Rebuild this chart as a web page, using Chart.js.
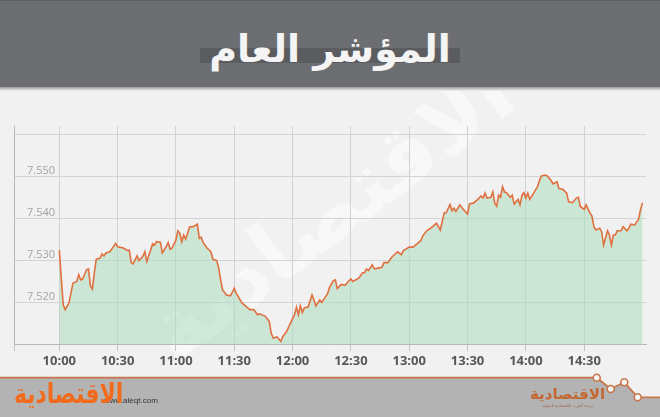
<!DOCTYPE html>
<html lang="ar">
<head>
<meta charset="UTF-8">
<title>المؤشر العام</title>
<script src="https://cdn.jsdelivr.net/npm/chart.js"></script>
<style>
    html, body { margin: 0; padding: 0; }
    body {
        width: 660px; height: 417px; position: relative; overflow: hidden;
        background: #f1f1f1; font-family: 'DejaVu Sans', sans-serif;
    }
    .header {
        position: absolute; left: 0; top: 0; width: 660px; height: 87px;
        background: #6d6e72; border-top: 1px solid #5f6064; box-sizing: border-box;
    }
    .header .bar { position: absolute; left: 200px; top: 47px; width: 260px; height: 15px; background: #5b5c60; }
    .header h1 {
        position: absolute; left: 0; top: 28px; width: 660px; margin: 0;
        text-align: center; color: #f4f4f4; font-size: 38px; line-height: 40px; font-weight: bold;
    }
    .shade { position: absolute; left: 0; top: 87px; width: 660px; height: 4px; background: linear-gradient(#9d9d9d, #f1f1f1); }
    .wm-box { position: absolute; left: 0; top: 91px; width: 660px; height: 286px; overflow: hidden; }
    .watermark {
        position: absolute; left: 90px; top: 70px; width: 480px; text-align: center;
        font-size: 86px; line-height: 100px; font-weight: bold; color: rgba(255,255,255,0.5);
        transform: rotate(-37deg); direction: rtl;
    }
    #wrap { position: absolute; left: 0; top: 90px; width: 660px; height: 287px; }
    .footer { position: absolute; left: 0; top: 365px; width: 660px; height: 52px; }
    .logo {
        position: absolute; left: 14px; top: 379px; color: #f26a1b; font-size: 28px; font-weight: bold;
        line-height: 30px; direction: rtl; transform: scaleX(0.78); transform-origin: left center;
    }
    .site { position: absolute; left: 104px; top: 396px; color: #333; font-size: 8px; font-family: 'Liberation Sans', sans-serif; }
    .logo2 { position: absolute; left: 530px; top: 386px; color: #c4672f; font-size: 15px; font-weight: bold; line-height: 16px; direction: rtl; }
    .sub2 { position: absolute; left: 528px; top: 403px; width: 66px; color: #a0653f; font-size: 4px; line-height: 5px; direction: rtl; text-align: right; }
</style>
</head>
<body>
<div class="header">
    <div class="bar"></div>
    <h1>المؤشر العام</h1>
</div>
<div class="shade"></div>
<div class="wm-box"><div class="watermark">الاقتصادية</div></div>
<div id="wrap"><canvas id="indexChart" width="660" height="287"></canvas></div>

<svg class="footer" width="660" height="52" viewBox="0 0 660 52">
    <polygon points="0,12.7 596.7,12.7 610.7,24 624.3,17.3 637.7,32.3 660,32.3 660,52 0,52" fill="#b3b3b3"/>
    <polyline points="0,12.7 596.7,12.7 610.7,24 624.3,17.3 637.7,32.3 660,32.3" fill="none" stroke="#c8744a" stroke-width="1.8"/>
    <circle cx="596.7" cy="12.7" r="3.5" fill="#f4f4f4" stroke="#c8744a" stroke-width="1.6"/>
    <circle cx="610.7" cy="24" r="3.5" fill="#f4f4f4" stroke="#c8744a" stroke-width="1.6"/>
    <circle cx="624.3" cy="17.3" r="3.5" fill="#f4f4f4" stroke="#c8744a" stroke-width="1.6"/>
    <circle cx="637.7" cy="32.3" r="3.5" fill="#f4f4f4" stroke="#c8744a" stroke-width="1.6"/>
</svg>
<div class="site">www.aleqt.com</div>
<div class="logo">الاقتصادية</div>
<div class="logo2">الاقتصادية</div>
<div class="sub2">جريدة العرب الاقتصادية الدولية</div>

<script>
    // minutes after 10:00 and index level
    const minutes = [0, 2, 3, 5, 7, 9, 10, 11, 12, 14, 15, 16, 17, 18, 19, 21, 22, 23, 24, 26,
        29, 30, 33, 35, 36, 37, 38, 40, 41, 43, 44, 45, 47, 48, 49, 50, 52, 53, 55, 56,
        57, 58, 60, 61, 62, 63, 64, 65, 66, 67, 69, 71, 72, 73, 74, 76, 78, 79, 81, 82,
        83, 84, 86, 88, 89, 90, 91, 93, 94, 96, 98, 100, 102, 103, 106, 108, 109, 110, 112, 114,
        115, 117, 119, 121, 122, 123, 124, 125, 126, 128, 130, 131, 132, 134, 135, 137, 138, 139, 141, 142,
        143, 145, 147, 149, 150, 151, 154, 156, 157, 158, 159, 161, 162, 164, 166, 167, 169, 171, 174, 176,
        177, 180, 182, 184, 186, 187, 189, 191, 192, 194, 196, 198, 199, 201, 202, 203, 204, 206, 208, 210,
        211, 213, 215, 217, 218, 219, 220, 222, 223, 224, 225, 226, 227, 228, 229, 230, 232, 233, 234, 236,
        237, 238, 239, 240, 241, 242, 244, 246, 247, 248, 250, 251, 253, 254, 256, 257, 259, 261, 262, 264,
        266, 267, 268, 270, 271, 273, 274, 275, 276, 278, 279, 280, 282, 283, 284, 285, 286, 287, 289, 290,
        292, 293, 294, 296, 298, 299, 300];
    const levels = [7532.4, 7519.4, 7518.2, 7519.8, 7524.5, 7524.9, 7526.5, 7525.3, 7525.5, 7527.7, 7527.9, 7523.9, 7523.1, 7526.9, 7530.2, 7530.5, 7531.5, 7531.0, 7531.7, 7532.0,
        7534.0, 7533.2, 7532.9, 7532.3, 7532.4, 7529.4, 7529.1, 7531.0, 7529.9, 7530.9, 7532.0, 7529.7, 7532.4, 7533.9, 7533.6, 7534.4, 7534.3, 7531.7, 7533.2, 7534.2,
        7532.6, 7532.9, 7534.8, 7537.0, 7536.4, 7534.4, 7536.0, 7535.0, 7536.4, 7537.9, 7538.0, 7538.6, 7535.2, 7535.5, 7534.2, 7532.9, 7532.0, 7530.2, 7529.9, 7528.1,
        7525.3, 7522.9, 7521.7, 7521.5, 7522.3, 7523.3, 7522.1, 7520.5, 7519.8, 7519.0, 7518.2, 7518.2, 7517.0, 7517.2, 7516.6, 7515.4, 7512.6, 7511.4, 7511.7, 7510.6,
        7511.8, 7513.0, 7515.1, 7517.0, 7518.8, 7517.0, 7519.1, 7517.5, 7518.6, 7518.8, 7521.7, 7520.5, 7519.1, 7520.5, 7519.9, 7521.3, 7522.0, 7523.5, 7525.1, 7525.3,
        7523.2, 7524.2, 7524.0, 7525.1, 7525.5, 7524.9, 7525.7, 7527.0, 7527.0, 7527.9, 7527.5, 7528.9, 7527.9, 7528.1, 7528.3, 7529.4, 7529.4, 7530.7, 7532.0, 7531.3,
        7532.3, 7533.1, 7533.1, 7533.9, 7534.7, 7535.8, 7537.0, 7537.6, 7538.0, 7538.8, 7537.2, 7541.3, 7541.3, 7543.3, 7541.8, 7542.4, 7541.6, 7543.2, 7542.0, 7541.0,
        7543.4, 7543.6, 7544.4, 7545.3, 7544.8, 7546.0, 7544.8, 7545.0, 7546.3, 7543.6, 7542.9, 7545.5, 7545.0, 7547.5, 7546.3, 7546.1, 7545.0, 7545.5, 7543.4, 7544.5,
        7543.2, 7545.5, 7546.1, 7544.8, 7546.0, 7544.5, 7546.0, 7547.5, 7549.0, 7550.1, 7550.3, 7550.1, 7549.0, 7548.2, 7548.7, 7547.1, 7546.9, 7546.0, 7543.9, 7543.7,
        7544.8, 7545.0, 7542.8, 7542.1, 7543.2, 7541.2, 7540.5, 7538.0, 7537.2, 7537.6, 7536.8, 7533.6, 7537.0, 7536.0, 7533.6, 7536.0, 7536.0, 7537.0, 7537.0, 7538.0,
        7537.0, 7537.6, 7538.6, 7538.4, 7539.8, 7542.1, 7543.7];

    const xTicks = [0, 30, 60, 90, 120, 150, 180, 210, 240, 270];
    const xLabels = ['10:00', '10:30', '11:00', '11:30', '12:00', '12:30', '13:00', '13:30', '14:00', '14:30'];
    const yTicks = [7510, 7520, 7530, 7540, 7550, 7560];
    const yLabels = ['', '7.520', '7.530', '7.540', '7.550', ''];

    const xMin = -23.3, xMax = 301.8;
    const allXTicks = [xMin].concat(xTicks);
    const allXLabels = [''].concat(xLabels);

    const ctx = document.getElementById('indexChart').getContext('2d');
    new Chart(ctx, {
        type: 'line',
        data: {
            datasets: [{
                data: minutes.map((m, i) => ({ x: m, y: levels[i] })),
                borderColor: '#e0703f',
                borderWidth: 1.6,
                backgroundColor: 'rgba(165, 219, 183, 0.5)',
                fill: 'start',
                pointRadius: 0,
                tension: 0
            }]
        },
        options: {
            responsive: false,
            devicePixelRatio: 1,
            animation: false,
            layout: { padding: { left: 14, right: 14, top: 36, bottom: 0 } },
            plugins: { legend: { display: false }, tooltip: { enabled: false } },
            scales: {
                x: {
                    type: 'linear',
                    min: xMin,
                    max: xMax,
                    afterBuildTicks: s => { s.ticks = allXTicks.map(v => ({ value: v })); },
                    afterFit: s => { s.height = 33; },
                    grid: { color: '#d2d2d2', tickLength: 7, tickColor: '#c4c4c4' },
                    border: { color: '#b8b8b8' },
                    ticks: {
                        autoSkip: false, maxRotation: 0, padding: 2,
                        color: '#575757',
                        font: { family: 'Open Sans', size: 13, weight: 'bold' },
                        callback: (v, i) => allXLabels[i]
                    }
                },
                y: {
                    min: 7510,
                    max: 7562,
                    afterBuildTicks: s => { s.ticks = yTicks.map(v => ({ value: v })); },
                    afterFit: s => { s.width = 0; },
                    grid: { color: '#d4d4d4', drawTicks: false },
                    border: { color: '#b8b8b8' },
                    ticks: {
                        mirror: true, padding: 13, labelOffset: -5,
                        color: '#a3a3a3',
                        font: { family: 'Open Sans', size: 11 },
                        callback: (v, i) => yLabels[i]
                    }
                }
            }
        }
    });
</script>
</body>
</html>
